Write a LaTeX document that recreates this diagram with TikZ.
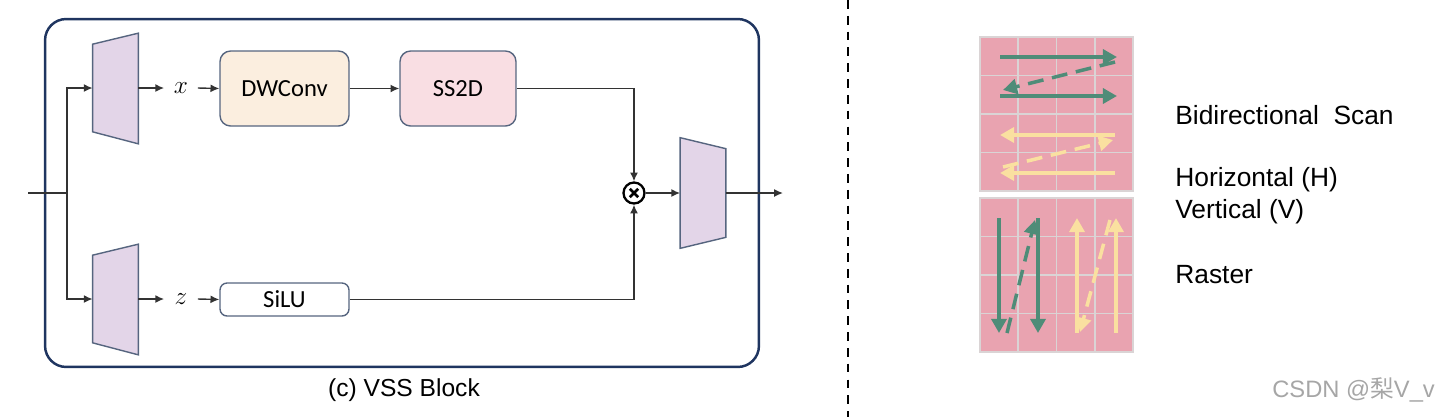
\documentclass[tikz,border=0pt]{standalone}
\usepackage{fontspec}
\setmainfont{Liberation Sans}
\newfontfamily\boxfont{Carlito}
\newfontfamily\cjk{Noto Sans CJK SC}
\usetikzlibrary{arrows.meta,positioning}

\definecolor{navy}{HTML}{1F3560}
\definecolor{edge}{HTML}{56657F}
\definecolor{lav}{HTML}{E3D5E8}
\definecolor{dwfill}{HTML}{FBEEDF}
\definecolor{ssfill}{HTML}{F9DEE3}
\definecolor{scanbg}{HTML}{E9A3B0}
\definecolor{cellgray}{HTML}{DAD4D5}
\definecolor{scangreen}{HTML}{4F8C78}
\definecolor{scanyellow}{HTML}{FAE0A0}

\begin{document}
\begin{tikzpicture}[x=0.02cm, y=-0.02cm,
  frame/.style={draw=navy, line width=1.4pt, rounded corners=12pt,
    minimum width=14.28cm, minimum height=6.96cm},
  blk/.style={draw=edge, line width=0.8pt, rounded corners=6pt,
    minimum height=1.5cm, font=\boxfont\fontsize{14}{16}\selectfont},
  proj/.style={minimum width=0.9cm, minimum height=1.74cm, inner sep=0pt},
  trapfill/.style={draw=edge, line width=0.8pt, fill=lav},
  var/.style={minimum width=0.66cm, inner sep=0pt, font=\fontsize{15}{17}\selectfont},
  wire/.style={draw=black!80, line width=0.8pt},
  arr/.style={wire, -{Latex[length=5pt,width=4.5pt]}},
  lbl/.style={anchor=west, inner sep=0pt, font=\fontsize{15}{17}\selectfont},
  cellline/.style={draw=cellgray, line width=1pt},
  scan/.style={line width=2pt, -{Triangle[length=8pt,width=8.5pt]}},
  dsh/.style={dash pattern=on 9pt off 5pt}
]
  \useasboundingbox (0,0) rectangle (1445,417);

  % VSS block
  \node[frame] (vss) at (402,193) {};
  \node[font=\fontsize{14}{17}\selectfont] (cap) at (404,390) {(c) VSS Block};

  \node[proj] (inx) at (115.5,88) {};
  \node[proj] (inz) at (115.5,299) {};
  \node[proj, minimum height=1.76cm] (outp) at (703,193) {};
  \draw[trapfill] (inx.south west) -- (inx.north west) -- ([yshift=2.2mm]inx.north east)
    -- ([yshift=-2.4mm]inx.south east) -- cycle;
  \draw[trapfill] (inz.south west) -- (inz.north west) -- ([yshift=2.2mm]inz.north east)
    -- ([yshift=-2.4mm]inz.south east) -- cycle;
  \draw[trapfill] (outp.north east) -- (outp.south east) -- ([yshift=-2.2mm]outp.south west)
    -- ([yshift=2.2mm]outp.north west) -- cycle;

  \node[var] (xv) at (181,88) {$x$};
  \node[var] (zv) at (181,299) {$z$};
  \node[blk, fill=dwfill, minimum width=2.58cm] (dw) at (284.5,88.5) {DWConv};
  \node[blk, fill=ssfill, minimum width=2.32cm] (ss) at (458,88.5) {SS2D};
  \node[blk, fill=white, minimum width=2.58cm, minimum height=0.66cm,
    rounded corners=4pt] (silu) at (284.5,299.5) {SiLU};
  \node[circle, draw, line width=1.3pt, minimum size=0.42cm, inner sep=0pt] (mul) at (634,193) {};
  \draw[line width=1.5pt] ([shift={(-2.4pt,-2.4pt)}]mul.center) -- ([shift={(2.4pt,2.4pt)}]mul.center)
    ([shift={(-2.4pt,2.4pt)}]mul.center) -- ([shift={(2.4pt,-2.4pt)}]mul.center);

  \coordinate (in) at (28,193);
  \coordinate (split) at (67,193);
  \coordinate (out) at (783,193);

  \draw[wire] (in) -- (split);
  \draw[arr] (split) |- (inx.west);
  \draw[arr] (split) |- (inz.west);
  \draw[arr] (inx.east) -- (xv.west);
  \draw[arr] (xv.east) -- (dw.west);
  \draw[arr] (dw.east) -- (ss.west);
  \draw[arr] (inz.east) -- (zv.west);
  \draw[arr] (zv.east) -- (silu.west);
  \draw[arr] (ss.east) -| (mul.north);
  \draw[arr] (silu.east) -| (mul.south);
  \draw[arr] (mul.east) -- (outp.west);
  \draw[arr] (outp.east) -- (out);

  % divider
  \draw[line width=1.2pt, dash pattern=on 5pt off 4pt] (848,0) -- (848,417);

  % scan grids
  \fill[scanbg] (980,37) rectangle (1133,191);
  \fill[scanbg] (980,198) rectangle (1133,352);
  \foreach \i in {1,2,3} {
    \draw[cellline] (980+38.25*\i,37) -- (980+38.25*\i,191);
    \draw[cellline] (980,37+38.5*\i) -- (1133,37+38.5*\i);
    \draw[cellline] (980+38.25*\i,198) -- (980+38.25*\i,352);
    \draw[cellline] (980,198+38.5*\i) -- (1133,198+38.5*\i);
  }
  \draw[cellline] (980,37) rectangle (1133,191);
  \draw[cellline] (980,198) rectangle (1133,352);

  \draw[scan, scangreen] (1000,57) -- (1117,57);
  \draw[scan, scangreen, dsh] (1115,62) -- (1003,90);
  \draw[scan, scangreen] (1000,96) -- (1117,96);
  \draw[scan, scanyellow] (1115,135) -- (1000,135);
  \draw[scan, scanyellow, dsh] (1003,167) -- (1113,140);
  \draw[scan, scanyellow] (1115,173) -- (1000,173);

  \draw[scan, scangreen] (999,218) -- (999,333);
  \draw[scan, scangreen, dsh] (1007,333) -- (1035,220);
  \draw[scan, scangreen] (1038,218) -- (1038,333);
  \draw[scan, scanyellow] (1077,333) -- (1077,218);
  \draw[scan, scanyellow, dsh] (1110,220) -- (1080,332);
  \draw[scan, scanyellow] (1116,333) -- (1116,218);

  \node[lbl] (bi) at (1175,115) {Bidirectional\ \ Scan};
  \node[lbl] (hor) at (1175,180) {Horizontal (H)};
  \node[lbl] (ver) at (1175,212) {Vertical (V)};
  \node[lbl] (ras) at (1175,275) {Raster};

  \node[anchor=east, text=black!35, font=\fontsize{13.5}{16}\selectfont] (wm) at (1441,390)
    {CSDN @{\cjk 梨}V\_v};
\end{tikzpicture}
\end{document}
